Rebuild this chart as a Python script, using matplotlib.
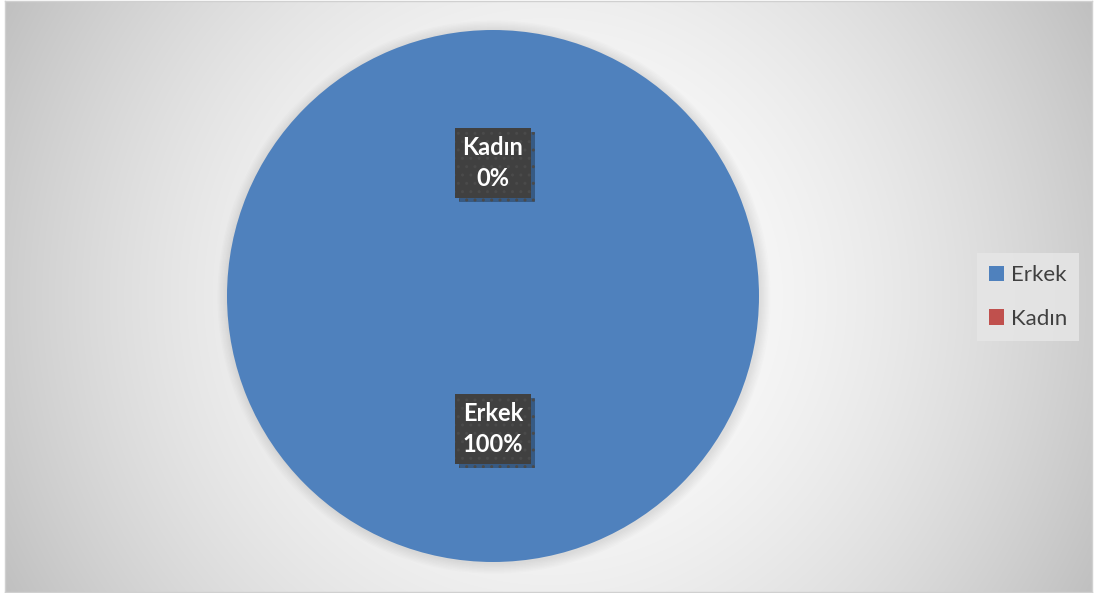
import numpy as np
import matplotlib
matplotlib.use("Agg")
import matplotlib.pyplot as plt
import matplotlib.patheffects as pe
from matplotlib.patches import Patch, Circle

# cinsiyet dağılımı
labels = ["Erkek", "Kadın"]
values = [100, 0]
colors = ["#4f81bd", "#c0504d"]

plt.rcParams["font.family"] = ["Lato", "DejaVu Sans"]
plt.rcParams["hatch.linewidth"] = 1.0

W, H = 1094, 593
fig = plt.figure(figsize=(W / 100, H / 100), dpi=100)
fig.patch.set_facecolor("white")

# chart area: radial grey gradient with thin border
bg = fig.add_axes([5 / W, 1 / H, 1087 / W, 591 / H])
yy, xx = np.mgrid[0:591, 0:1087]
r = np.hypot(xx - 543, yy - 295) / 622.0
shade = 1.0 - 0.25 * np.clip(r, 0, 1.2) ** 1.8
bg.imshow(np.dstack([shade] * 3), extent=(0, 1, 0, 1), aspect="auto",
          interpolation="bilinear")
bg.set_xlim(0, 1); bg.set_ylim(0, 1)
bg.set_xticks([]); bg.set_yticks([])
for s in bg.spines.values():
    s.set_color("#d0d0d0"); s.set_linewidth(1.0)

# pie axes
cx, cy, rad = 493, 296, 266
ax = fig.add_axes([(cx - rad) / W, (H - cy - rad) / H, 2 * rad / W, 2 * rad / H])

wedges, _ = ax.pie(values, colors=colors, startangle=90, counterclock=False,
                   radius=1.0, wedgeprops=dict(lw=0))
for w in wedges:
    w.set_zorder(2)
ax.set_xlim(-1, 1); ax.set_ylim(-1, 1)
ax.set_aspect("equal")
ax.axis("off")

# soft halo under the pie
for k in range(8):
    ax.add_patch(Circle((0.004, -0.004), 1.0 + 0.005 * (k + 1), color="black",
                        alpha=0.012, lw=0, zorder=0, clip_on=False))

for w, lab, v in zip(wedges, labels, values):
    mid = np.deg2rad((w.theta1 + w.theta2) / 2)
    x, y = 0.5 * np.cos(mid), 0.5 * np.sin(mid)
    t = ax.text(x, y, f"{lab}\n{v:.0f}%", ha="center", va="center",
                color="white", fontsize=17, fontweight="bold", linespacing=1.45,
                zorder=5,
                bbox=dict(boxstyle="square,pad=0.32", facecolor="#404040",
                          edgecolor="#4a4a4a", hatch="..", lw=0))
    t.get_bbox_patch().set_path_effects(
        [pe.SimplePatchShadow(offset=(3, -3), shadow_rgbFace="black", alpha=0.3),
         pe.Normal()])

handles = [Patch(facecolor=c, edgecolor="none") for c in colors]
leg = fig.legend(handles, labels, loc="center", bbox_to_anchor=(1028 / W, 1 - 297 / H),
                 fontsize=16, frameon=True, fancybox=False, handlelength=0.7,
                 handleheight=0.7, handletextpad=0.3, labelspacing=1.05,
                 borderpad=0.55, labelcolor="#404040")
leg.get_frame().set_facecolor("#e6e6e6")
leg.get_frame().set_edgecolor("none")
leg.get_frame().set_alpha(0.85)

fig.savefig("out.png", dpi=100)
